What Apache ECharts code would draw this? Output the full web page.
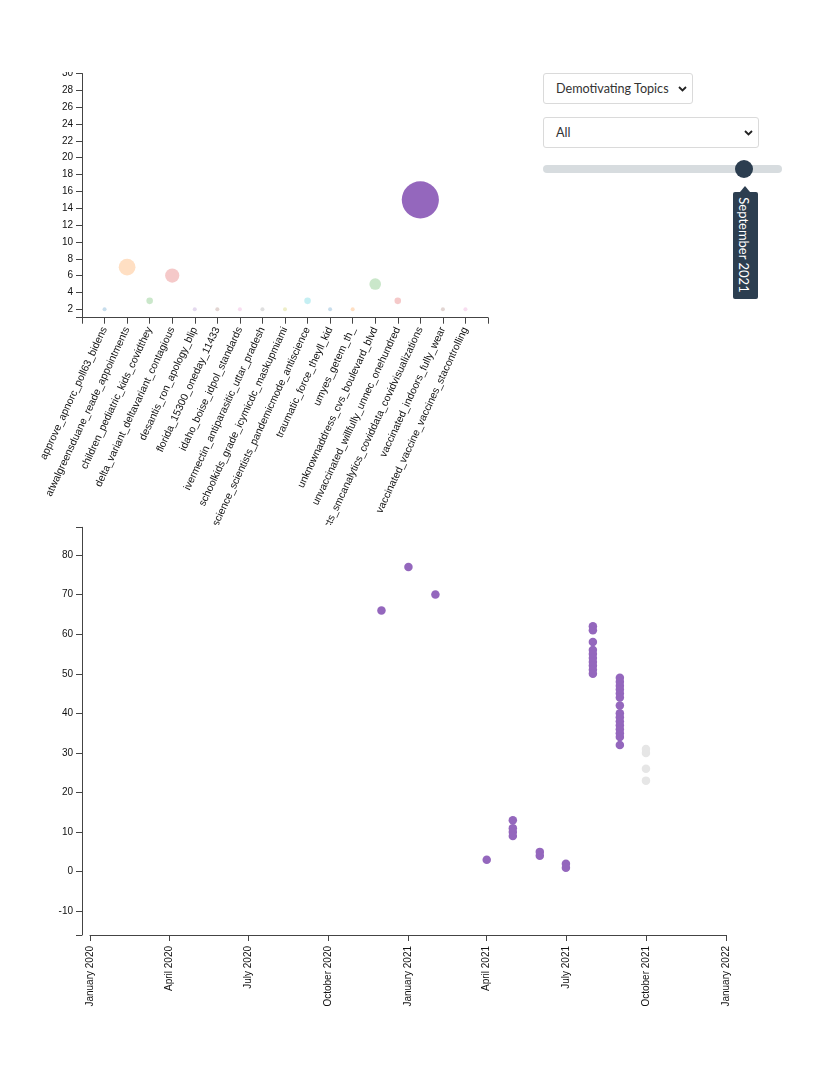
<!DOCTYPE html>
<html><head><meta charset="utf-8">
<script src="https://cdn.jsdelivr.net/npm/echarts@6/dist/echarts.min.js"></script>
<style>
html,body{margin:0;padding:0;background:#fff;width:830px;height:1075px;overflow:hidden;}
#top{position:absolute;left:0;top:72px;width:530px;height:453px;}
#bottom{position:absolute;left:0;top:525px;width:830px;height:550px;}
.sel{position:absolute;box-sizing:border-box;border:1px solid #dadada;border-radius:3px;background:#fff;font-family:Lato,'Noto Sans',sans-serif;font-size:12.6px;color:#333;padding-left:12px;line-height:29px;}
.chev{position:absolute;top:12px;width:9px;height:6px;}
#track{position:absolute;left:543px;top:165px;width:239px;height:8px;border-radius:4px;background:#d7dcdf;}
#thumb{position:absolute;left:735px;top:160px;width:18px;height:18px;border-radius:50%;background:#2c3e50;}
#tip{position:absolute;left:733px;top:192px;width:25px;height:107px;border-radius:2px;background:#2c3e50;}
#tip:before{content:'';position:absolute;left:7px;top:-6px;border-left:5.5px solid transparent;border-right:5.5px solid transparent;border-bottom:6px solid #2c3e50;}
#tiptext{position:absolute;left:744px;top:245px;transform:translate(-50%,-50%) rotate(90deg);white-space:nowrap;color:#fff;font-family:Lato,'Noto Sans',sans-serif;font-size:13px;}
</style></head>
<body>
<div id="top"></div>
<div id="bottom"></div>
<div class="sel" style="left:543px;top:73px;width:150px;height:31px;">Demotivating Topics<svg class="chev" style="left:134px" viewBox="0 0 9 6"><polyline points="1,1 4.5,4.5 8,1" fill="none" stroke="#222" stroke-width="1.8"/></svg></div>
<div class="sel" style="left:543px;top:117px;width:216px;height:31px;">All<svg class="chev" style="left:200px" viewBox="0 0 9 6"><polyline points="1,1 4.5,4.5 8,1" fill="none" stroke="#222" stroke-width="1.8"/></svg></div>
<div id="track"></div>
<div id="thumb"></div>
<div id="tip"></div>
<div id="tiptext">September 2021</div>
<script>
// ---- top chart data ----
const topics = [
  'approve_apnorc_poll63_bidens',
  'atwalgreensduane_reade_appointments',
  'children_pediatric_kids_covidthey',
  'delta_variant_deltavariant_contagious',
  'desantis_ron_apology_blip',
  'florida_15300_oneday_11433',
  'idaho_boise_idpol_standards',
  'ivermectin_antiparasitic_uttar_pradesh',
  'schoolkids_grade_icymicdc_maskupmiami',
  'science_scientists_pandemicmode_antiscience',
  'traumatic_force_theyll_kid',
  'umyes_getem_th_',
  'unknownaddress_cvs_boulevard_blvd',
  'unvaccinated_willfully_unnec_onehundred',
  'facts_smcanalytics_coviddata_covidvisualizations',
  'vaccinated_indoors_fully_wear',
  'vaccinated_vaccine_vaccines_stacontrolling'
];
const topicCounts = [2, 7, 3, 6, 2, 2, 2, 2, 2, 3, 2, 2, 5, 3, 15, 2, 2];
const selectedTopic = 'facts_smcanalytics_coviddata_covidvisualizations';
const topYTicks = [2, 4, 6, 8, 10, 12, 14, 16, 18, 20, 22, 24, 26, 28, 30];
const palette = ['#1f77b4', '#ff7f0e', '#2ca02c', '#d62728', '#9467bd', '#8c564b', '#e377c2', '#7f7f7f', '#bcbd22', '#17becf'];

// ---- bottom chart data ----
const monthDates = ['2020-12-01', '2021-01-01', '2021-02-01', '2021-04-01', '2021-05-01', '2021-06-01', '2021-07-01', '2021-08-01', '2021-09-01', '2021-10-01'];
const monthValues = [
  [66],
  [77],
  [70],
  [3],
  [13, 11, 10, 9],
  [5, 4],
  [2, 1],
  [62, 61, 58, 56, 55, 54, 53, 52, 51, 50],
  [49, 48, 47, 46, 45, 44, 42, 40, 39, 38, 37, 36, 35, 34, 32],
  [31, 30, 26, 23]
];
const selectedMonth = '2021-09-01';
const xTickDates = ['2020-01-01', '2020-04-01', '2020-07-01', '2020-10-01', '2021-01-01', '2021-04-01', '2021-07-01', '2021-10-01', '2022-01-01'];
const bottomYTicks = [-10, 0, 10, 20, 30, 40, 50, 60, 70, 80];
const monthNames = ['January', 'February', 'March', 'April', 'May', 'June', 'July', 'August', 'September', 'October', 'November', 'December'];

const FONT = "'Liberation Sans', Arial, sans-serif";
const AX = '#444';

// ---- top chart ----
const topChart = echarts.init(document.getElementById('top'), null, {renderer: 'canvas'});
const topMin = 1, topMax = 30;
topChart.setOption({
  animation: false,
  grid: {left: 82, top: 1.5, width: 406, height: 244.2, outerBoundsMode: 'none', containLabel: false},
  xAxis: {
    type: 'category',
    boundaryGap: false,
    data: [''].concat(topics, ['']),
    axisLine: {onZero: false, lineStyle: {color: AX, width: 1}},
    axisTick: {show: true, interval: 0, length: 6, lineStyle: {color: AX}},
    axisLabel: {interval: 0, rotate: 65, fontSize: 10.4, color: '#111', fontFamily: FONT, margin: 10, hideOverlap: false},
    splitLine: {show: false}
  },
  yAxis: {
    type: 'value',
    min: topMin, max: topMax,
    axisLine: {show: true, onZero: false, lineStyle: {color: AX, width: 1}},
    axisTick: {show: true, length: 6, lineStyle: {color: AX}, customValues: [topMin].concat(topYTicks)},
    axisLabel: {fontSize: 10, color: '#111', fontFamily: FONT, margin: 9, customValues: topYTicks},
    splitLine: {show: false}
  },
  series: [{
    type: 'scatter',
    symbol: 'circle',
    symbolSize: function (v) { return 4 + (v[1] - 2) * 2.55; },
    data: topics.map(function (t, i) {
      return {
        value: [t, topicCounts[i]],
        itemStyle: {color: palette[i % 10], opacity: t === selectedTopic ? 1 : 0.25}
      };
    })
  }]
});

// ---- bottom chart ----
const bottomChart = echarts.init(document.getElementById('bottom'), null, {renderer: 'canvas'});
const yMin = -16, yMax = 87;
const xMin = Date.parse(xTickDates[0]), xMax = Date.parse(xTickDates[xTickDates.length - 1]);
const selT = Date.parse(selectedMonth);
const pts = [];
monthDates.forEach(function (d, i) {
  const t = Date.parse(d);
  monthValues[i].forEach(function (v) {
    pts.push({value: [t, v], itemStyle: {color: t <= selT ? '#9467bd' : '#e6e6e6', opacity: 1}});
  });
});
bottomChart.setOption({
  animation: false,
  grid: {left: 90, top: 2.3, width: 636, height: 407.7, outerBoundsMode: 'none', containLabel: false},
  xAxis: {
    type: 'value',
    min: xMin, max: xMax,
    axisLine: {onZero: false, lineStyle: {color: AX, width: 1}},
    axisTick: {show: true, length: 6, lineStyle: {color: AX}, customValues: xTickDates.map(Date.parse)},
    axisLabel: {
      rotate: 90, fontSize: 10, color: '#111', fontFamily: FONT, margin: 11,
      customValues: xTickDates.map(Date.parse),
      formatter: function (v) { const d = new Date(v); return monthNames[d.getUTCMonth()] + ' ' + d.getUTCFullYear(); }
    },
    splitLine: {show: false}
  },
  yAxis: {
    type: 'value',
    min: yMin, max: yMax, offset: 8,
    axisLine: {show: true, onZero: false, lineStyle: {color: AX, width: 1}},
    axisTick: {show: true, length: 6, lineStyle: {color: AX}, customValues: [yMin].concat(bottomYTicks, [yMax])},
    axisLabel: {fontSize: 10, color: '#111', fontFamily: FONT, margin: 9, customValues: bottomYTicks},
    splitLine: {show: false}
  },
  series: [{
    type: 'scatter',
    symbol: 'circle',
    symbolSize: 8.5,
    itemStyle: {opacity: 1},
    data: pts
  }]
});
</script>
</body></html>
